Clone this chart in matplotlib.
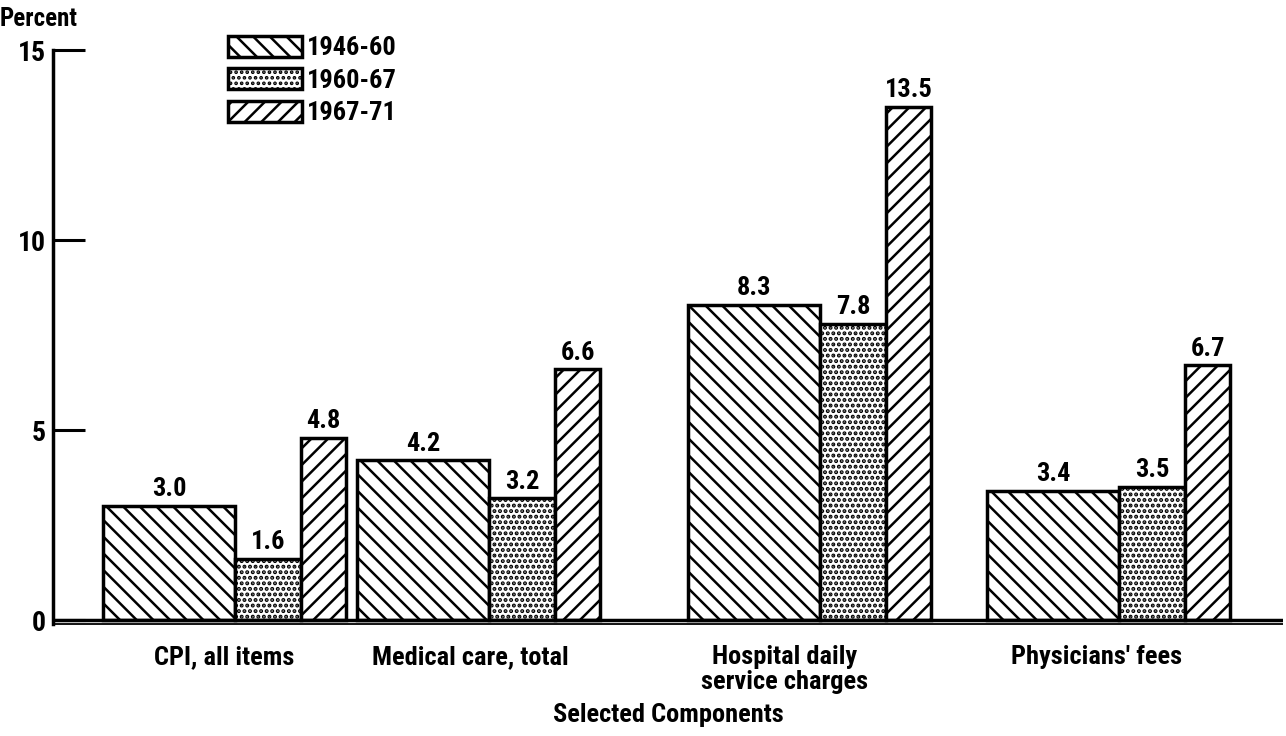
"""Average annual rate of increase in prices, selected CPI components."""
import matplotlib
matplotlib.use("Agg")
import matplotlib.pyplot as plt

# --- data -------------------------------------------------------------------
categories = ["CPI, all items", "Medical care, total",
              "Hospital daily\nservice charges", "Physicians' fees"]
periods = ["1946-60", "1960-67", "1967-71"]
rate_1946_60 = [3.0, 4.2, 8.3, 3.4]
rate_1960_67 = [1.6, 3.2, 7.8, 3.5]
rate_1967_71 = [4.8, 6.6, 13.5, 6.7]
y_ticks = [0, 5, 10, 15]

# --- layout (x in pixel-like units, hand-drawn spacing of the original) -----
group_left = [103, 357, 688, 987]
bar_width = [132, 66, 45]
label_x = [224, 470, 785, 1097]
hatches = ["\\\\", "...", "//"]
hatch_lw = [1.8, 2.0, 1.8]

plt.rcParams["font.family"] = ["Liberation Sans Narrow", "Roboto Condensed",
                               "Liberation Sans", "DejaVu Sans"]
plt.rcParams["font.weight"] = "bold"
plt.rcParams["hatch.linewidth"] = 1.8

fig = plt.figure(figsize=(12.86, 7.36), dpi=100)
ax = fig.add_axes([53 / 1286, 0.1421, 1230 / 1286, 0.932 - 0.1421])

series = [rate_1946_60, rate_1960_67, rate_1967_71]
for k, (vals, hatch, label) in enumerate(zip(series, hatches, periods)):
    lefts = [g + sum(bar_width[:k]) for g in group_left]
    bars = ax.bar(lefts, vals, width=bar_width[k], align="edge", color="white",
                  edgecolor="black", linewidth=2.5, hatch=hatch, label=label, zorder=2)
    for b, v in zip(bars, vals):
        if hasattr(b, "set_hatch_linewidth"):
            b.set_hatch_linewidth(hatch_lw[k])
        ax.annotate(f"{v:.1f}", (b.get_x() + b.get_width() / 2, v),
                    xytext=(0, 7), textcoords="offset points",
                    ha="center", va="baseline", fontsize=19, fontweight="bold")

ax.set_xlim(53, 1283)
ax.set_ylim(-0.3, 15)

# double baseline
ax.axhline(0, color="black", lw=2.5, zorder=3)
ax.axhline(-0.11, color="black", lw=1.3, zorder=3)

for s in ["top", "right", "bottom"]:
    ax.spines[s].set_visible(False)
ax.spines["left"].set_linewidth(2.5)
ax.spines["left"].set_bounds(-0.11, 15)

ax.set_yticks(y_ticks)
ax.set_yticklabels([str(t) for t in y_ticks], fontsize=20, fontweight="bold")
ax.tick_params(axis="y", direction="in", length=23, width=2.2, pad=5)
ax.set_xticks(label_x)
ax.set_xticklabels(categories, fontsize=19, fontweight="bold", linespacing=1.05)
ax.tick_params(axis="x", length=0, pad=10)

ax.set_xlabel("Selected Components", fontsize=19, fontweight="bold", labelpad=6)
fig.text(0.0, 0.99, "Percent", fontsize=18, fontweight="bold", va="top", ha="left")

ax.legend(loc="upper left", bbox_to_anchor=(0.142, 1.025), frameon=False,
          prop={"size": 19, "weight": "bold"}, handlelength=2.8, handleheight=0.85,
          handletextpad=0.2, labelspacing=0.3, borderpad=0, borderaxespad=0)

fig.savefig("out.png", dpi=100)
